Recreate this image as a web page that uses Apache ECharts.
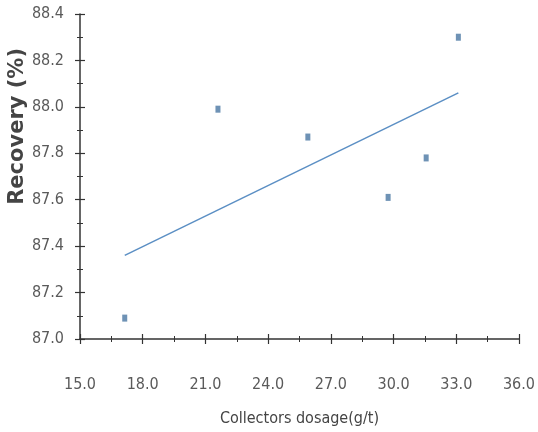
<!DOCTYPE html>
<html>
<head>
<meta charset="utf-8">
<script src="https://cdn.jsdelivr.net/npm/echarts@6/dist/echarts.min.js"></script>
<style>html,body{margin:0;padding:0;background:#fff}#c{width:538px;height:432px}</style>
</head>
<body>
<div id="c"></div>
<script>
// Data
const dosage = [17.14, 21.6, 25.9, 29.74, 31.56, 33.1];
const recovery = [87.09, 87.99, 87.87, 87.61, 87.78, 88.30];
// Trendline endpoints as drawn in the reference
const trendX = [17.14, 33.1];
const trendY = [87.36, 88.06];
const xTitle = 'Collectors dosage(g/t)';
const yTitle = 'Recovery (%)';

const points = dosage.map((x, i) => [x, recovery[i]]);
const trend = trendX.map((x, i) => [x, trendY[i]]);

const lblFont = '"Liberation Sans Narrow", "DejaVu Sans Condensed", sans-serif';
const axisCol = '#333';

function xAx(primary) {
  return {
    type: 'value', min: 15, max: 36, interval: 3, position: 'bottom', offset: 0,
    axisLine: { show: primary, onZero: false, lineStyle: { color: axisCol, width: 1.5 } },
    axisTick: { show: true, inside: !primary, length: 5, lineStyle: { color: axisCol, width: 1.2 } },
    minorTick: { show: true, splitNumber: 2, length: 3, lineStyle: { color: axisCol, width: 1 } },
    splitLine: { show: false },
    axisLabel: { show: primary, margin: 38, color: '#5a5a5a', fontFamily: lblFont, fontSize: 16,
      formatter: v => v.toFixed(1) },
    name: primary ? xTitle : '', nameLocation: 'middle', nameGap: 72,
    nameTextStyle: { color: '#444', fontFamily: lblFont, fontSize: 16 }
  };
}
function yAx(primary) {
  return {
    type: 'value', min: 87, max: 88.4, interval: 0.2, position: 'left', offset: 0,
    axisLine: { show: primary, onZero: false, lineStyle: { color: axisCol, width: 1.5 } },
    axisTick: { show: true, inside: !primary, length: 5, lineStyle: { color: axisCol, width: 1.2 } },
    minorTick: { show: true, splitNumber: 2, length: 3, lineStyle: { color: axisCol, width: 1 } },
    splitLine: { show: false },
    axisLabel: { show: primary, margin: 16, color: '#5a5a5a', fontFamily: lblFont, fontSize: 16,
      formatter: v => v.toFixed(1) }
  };
}

const chart = echarts.init(document.getElementById('c'));
chart.setOption({
  animation: false,
  backgroundColor: '#fff',
  grid: { left: 80, right: 16, top: 14, bottom: 93, containLabel: false },
  xAxis: [xAx(true), xAx(false)],
  yAxis: [yAx(true), yAx(false)],
  graphic: [{
    type: 'text', left: 7, top: 48, rotation: Math.PI / 2,
    style: { text: yTitle, fill: '#444', font: 'bold 21px "DejaVu Sans", sans-serif' }
  }],
  series: [
    { type: 'line', data: trend, showSymbol: false, symbol: 'none',
      lineStyle: { color: '#5b8fc4', width: 1.5 }, z: 2 },
    { type: 'scatter', data: points, symbol: 'rect', symbolSize: [5, 7],
      itemStyle: { color: '#4a77a2' }, z: 3 }
  ]
});
</script>
</body>
</html>
